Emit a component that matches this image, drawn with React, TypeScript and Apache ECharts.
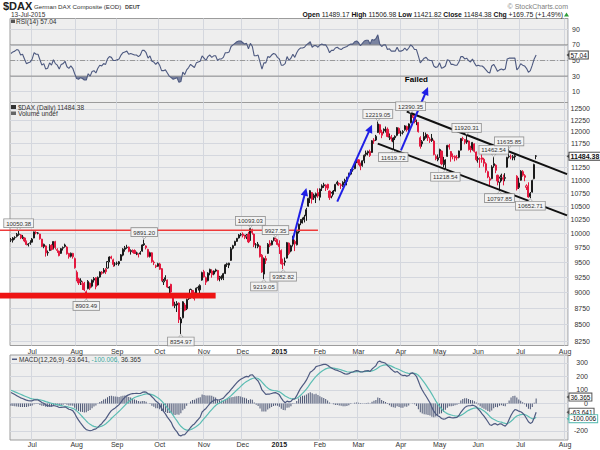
import React, { useEffect, useRef, useState } from 'react';
import * as echarts from 'echarts';

const FONT = "'Liberation Sans', Arial, Helvetica, sans-serif";

// ---------- calendar ----------
const firstTradingDay = '2014-06-16';
const lastAxisDay = '2015-08-04';
const exchangeHolidays = ['2014-12-24', '2014-12-25', '2014-12-26', '2014-12-31', '2015-01-01', '2015-04-03', '2015-04-06', '2015-05-01'];
const monthNames = ['Jan', 'Feb', 'Mar', 'Apr', 'May', 'Jun', 'Jul', 'Aug', 'Sep', 'Oct', 'Nov', 'Dec'];

// ---------- daily candles: [open, close, low, high] ----------
const candlesJun2014 = [
  [9890, 9883, 9850, 9920], [9880, 9920, 9840, 9935], [9925, 9928, 9890, 9950], [9950, 9987, 9930, 10010],
  [9990, 9987, 9960, 10050.38], [9975, 9921, 9900, 9990], [9925, 9938, 9900, 9975], [9920, 9867, 9845, 9930],
  [9860, 9805, 9790, 9875], [9800, 9815, 9770, 9830], [9830, 9833, 9800, 9880],
];
const candlesJul2014 = [
  [9845, 9902, 9835, 9920], [9920, 10029, 9915, 10035], [10020, 10009, 9985, 10040], [10005, 10009, 9985, 10025],
  [9990, 9906, 9890, 9995], [9900, 9772, 9760, 9905], [9770, 9809, 9740, 9820], [9780, 9659, 9595, 9790],
  [9660, 9666, 9610, 9700], [9700, 9783, 9690, 9810], [9790, 9719, 9700, 9810], [9730, 9859, 9720, 9865],
  [9855, 9753, 9720, 9870], [9700, 9720, 9660, 9740], [9690, 9612, 9600, 9700], [9650, 9734, 9640, 9745],
  [9740, 9753, 9700, 9770], [9770, 9797, 9750, 9820], [9760, 9644, 9630, 9775], [9650, 9593, 9560, 9660],
  [9600, 9653, 9580, 9665], [9650, 9593, 9560, 9660], [9560, 9407, 9390, 9580],
];
const candlesAug2014 = [
  [9330, 9210, 9180, 9360], [9220, 9154, 9120, 9240], [9170, 9189, 9120, 9230], [9140, 9130, 9040, 9180],
  [9150, 9039, 9020, 9170], [8990, 9010, 8903.49, 9030], [9060, 9180, 9050, 9200], [9150, 9069, 9040, 9160],
  [9100, 9199, 9080, 9210], [9200, 9226, 9160, 9250], [9240, 9092, 9050, 9250], [9120, 9245, 9110, 9260],
  [9250, 9334, 9240, 9345], [9330, 9314, 9290, 9350], [9330, 9368, 9310, 9400], [9380, 9339, 9300, 9400],
  [9400, 9510, 9395, 9520], [9520, 9588, 9500, 9600], [9590, 9569, 9550, 9610], [9540, 9462, 9420, 9560],
  [9470, 9470, 9430, 9500],
];
const candlesSep2014 = [
  [9480, 9480, 9450, 9510], [9470, 9507, 9440, 9520], [9530, 9626, 9520, 9640], [9620, 9724, 9600, 9740],
  [9720, 9747, 9680, 9780], [9750, 9758, 9730, 9800], [9760, 9686, 9670, 9770], [9680, 9700, 9630, 9720],
  [9700, 9691, 9660, 9720], [9700, 9651, 9640, 9720], [9650, 9659, 9620, 9680], [9640, 9632, 9580, 9650],
  [9640, 9661, 9630, 9690], [9690, 9798, 9680, 9810], [9820, 9799, 9780, 9891.2], [9780, 9749, 9720, 9790],
  [9720, 9595, 9580, 9730], [9600, 9662, 9580, 9680], [9660, 9510, 9490, 9670], [9500, 9490, 9450, 9530],
  [9440, 9422, 9400, 9460], [9430, 9474, 9420, 9490],
];
const candlesOct2014 = [
  [9470, 9382, 9370, 9490], [9390, 9195, 9180, 9400], [9170, 9196, 9120, 9220], [9240, 9209, 9190, 9280],
  [9200, 9086, 9070, 9210], [9070, 9086, 8990, 9100], [9130, 9005, 8990, 9140], [8960, 8788, 8780, 8970],
  [8790, 8812, 8750, 8850], [8800, 8825, 8690, 8860], [8830, 8572, 8520, 8840], [8520, 8582, 8354.97, 8610],
  [8600, 8850, 8590, 8860], [8800, 8717, 8700, 8830], [8740, 8887, 8720, 8900], [8900, 8940, 8880, 8960],
  [8920, 9048, 8900, 9060], [9030, 8988, 8940, 9040], [8990, 8902, 8870, 9000], [8920, 9068, 8910, 9080],
  [9070, 9083, 9030, 9110], [9040, 9114, 8990, 9130], [9200, 9326, 9190, 9340],
];
const candlesNov2014 = [
  [9340, 9255, 9240, 9370], [9240, 9166, 9120, 9260], [9190, 9316, 9180, 9330], [9320, 9378, 9280, 9390],
  [9350, 9291, 9240, 9380], [9300, 9351, 9280, 9360], [9350, 9369, 9330, 9390], [9360, 9211, 9190, 9370],
  [9230, 9249, 9180, 9270], [9250, 9252, 9200, 9280], [9230, 9307, 9200, 9320], [9310, 9456, 9300, 9470],
  [9460, 9473, 9420, 9490], [9450, 9484, 9400, 9490], [9530, 9732, 9520, 9760], [9740, 9785, 9720, 9800],
  [9790, 9861, 9780, 9870], [9860, 9915, 9850, 9920], [9920, 9974, 9910, 9990], [9975, 9980, 9950, 10010],
];
const candlesDec2014 = [
  [9990, 9963, 9930, 10020], [9950, 9934, 9900, 9980], [9940, 9972, 9900, 9990], [9990, 9851, 9830, 10030],
  [9880, 10087, 9870, 10093.03], [10070, 10014, 9980, 10085], [9990, 9799, 9760, 10000], [9800, 9799, 9740, 9830],
  [9770, 9811, 9740, 9850], [9780, 9594, 9580, 9790], [9620, 9334, 9320, 9640], [9300, 9564, 9219.05, 9580],
  [9530, 9563, 9470, 9610], [9650, 9811, 9640, 9830], [9830, 9787, 9760, 9880], [9800, 9866, 9790, 9880],
  [9880, 9922, 9860, 9930], [9880, 9906, 9850, 9927.35], [9890, 9805, 9790, 9895],
];
const candlesJan2015 = [
  [9820, 9765, 9640, 9880], [9700, 9474, 9460, 9720], [9480, 9470, 9382.82, 9560], [9500, 9518, 9440, 9580],
  [9570, 9838, 9560, 9850], [9830, 9649, 9620, 9840], [9690, 9782, 9670, 9800], [9810, 9941, 9770, 9960],
  [9860, 9818, 9690, 9890], [9800, 10032, 9790, 10060], [10030, 10168, 10000, 10180], [10190, 10242, 10150, 10260],
  [10250, 10257, 10180, 10290], [10260, 10299, 10200, 10340], [10320, 10436, 10230, 10470], [10500, 10649, 10490, 10660],
  [10650, 10798, 10560, 10810], [10760, 10628, 10550, 10770], [10660, 10710, 10620, 10740], [10690, 10738, 10560, 10760],
  [10760, 10694, 10660, 10840],
];
const candlesFeb2015 = [
  [10670, 10828, 10610, 10840], [10850, 10891, 10790, 10920], [10890, 10911, 10850, 10950], [10850, 10905, 10790, 10920],
  [10920, 10846, 10810, 10930], [10790, 10664, 10620, 10800], [10690, 10752, 10650, 10770], [10790, 10752, 10720, 10810],
  [10790, 10919, 10780, 10930], [10930, 10963, 10900, 10990], [10940, 10924, 10890, 10960], [10910, 10895, 10830, 10940],
  [10900, 10961, 10870, 10980], [10970, 11001, 10940, 11030], [10980, 11051, 10900, 11070], [11080, 11131, 11060, 11150],
  [11120, 11206, 11100, 11220], [11210, 11211, 11170, 11250], [11230, 11355, 11220, 11370], [11370, 11402, 11340, 11410],
];
const candlesMar2015 = [
  [11410, 11346, 11300, 11420], [11340, 11281, 11200, 11350], [11290, 11390, 11270, 11400], [11390, 11504, 11340, 11520],
  [11520, 11551, 11480, 11600], [11550, 11583, 11500, 11600], [11580, 11500, 11470, 11620], [11560, 11806, 11550, 11820],
  [11820, 11799, 11740, 11860], [11820, 11901, 11800, 11930], [11980, 12167, 11970, 12219.05], [12150, 11980, 11940, 12160],
  [11990, 11923, 11860, 12040], [12020, 12036, 11960, 12070], [12050, 12040, 11980, 12110], [12050, 11896, 11880, 12090],
  [11880, 11912, 11820, 11960], [11890, 11844, 11790, 11930], [11780, 11865, 11619.72, 11880], [11900, 11868, 11820, 11920],
  [11920, 12086, 11900, 12100], [12070, 11967, 11950, 12090],
];
const candlesApr2015 = [
  [11970, 11968, 11900, 12020], [11980, 12002, 11940, 12030], [12040, 12124, 12020, 12140], [12110, 12036, 12000, 12130],
  [12050, 12166, 12000, 12180], [12190, 12375, 12180, 12390.35], [12380, 12339, 12300, 12380], [12320, 12228, 12180, 12330],
  [12220, 12232, 12140, 12260], [12200, 11999, 11980, 12210], [11870, 11689, 11640, 11900], [11740, 11787, 11680, 11820],
  [11820, 11897, 11800, 11990], [11870, 11939, 11850, 11980], [11920, 11867, 11800, 11950], [11840, 11811, 11760, 11880],
  [11860, 11811, 11780, 11950], [11800, 11519, 11500, 11830], [11480, 11433, 11400, 11520], [11410, 11454, 11380, 11520],
];
const candlesMay2015 = [
  [11480, 11622, 11450, 11640], [11590, 11327, 11300, 11600], [11330, 11351, 11260, 11470], [11310, 11407, 11218.54, 11420],
  [11480, 11709, 11470, 11720], [11710, 11673, 11620, 11740], [11580, 11473, 11370, 11590], [11480, 11472, 11420, 11540],
  [11480, 11448, 11380, 11500], [11460, 11447, 11400, 11510], [11460, 11592, 11440, 11600], [11610, 11854, 11600, 11860],
  [11850, 11848, 11800, 11890], [11830, 11772, 11730, 11840], [11780, 11815, 11740, 11920.31], [11800, 11626, 11600, 11810],
  [11640, 11625, 11560, 11700], [11620, 11771, 11600, 11780], [11740, 11585, 11560, 11750], [11570, 11413, 11380, 11580],
];
const candlesJun2015 = [
  [11420, 11436, 11350, 11480], [11430, 11430, 11250, 11460], [11450, 11419, 11350, 11520], [11420, 11340, 11270, 11450],
  [11330, 11197, 11150, 11360], [11170, 11064, 11040, 11190], [11030, 11001, 10890, 11070], [11030, 11265, 11020, 11300],
  [11290, 11333, 11250, 11462.54], [11300, 11197, 11140, 11320], [11100, 10984, 10900, 11110], [10960, 11044, 10797.85, 11070],
  [11060, 11100, 10980, 11130], [11050, 11019, 10900, 11110], [11050, 11040, 10980, 11140], [11260, 11460, 11250, 11470],
  [11480, 11472, 11440, 11635.85], [11470, 11471, 11420, 11520], [11450, 11473, 11400, 11510], [11470, 11492, 11400, 11520],
  [11080, 10832, 10800, 11100], [10860, 10945, 10830, 11050],
];
const candlesJul2015 = [
  [11000, 11181, 10990, 11200], [11170, 11099, 11070, 11200], [11090, 11058, 10980, 11120], [10860, 10891, 10810, 10920],
  [10880, 10676, 10660, 10960], [10680, 10747, 10652.71, 10770], [10770, 10997, 10760, 11010], [11030, 11315, 11020, 11330],
  [11489.17, 11484.38, 11421.82, 11506.98],
];

// ---------- RSI(14), one value per trading day ----------
const rsi14 = [
  59, 61, 62, 64, 63, 57, 58, 52, 46, 47, 48, 52, 60, 58, 58, 51, 44, 46, 39, 40,
  47, 44, 51, 46, 44, 39, 45, 46, 49, 42, 40, 43, 40, 33, 27, 26, 28, 27, 25, 25,
  33, 30, 36, 37, 34, 40, 44, 43, 46, 45, 52, 55, 54, 50, 50, 51, 52, 57, 60, 61,
  62, 58, 59, 58, 57, 57, 55, 57, 63, 63, 60, 53, 56, 49, 48, 45, 48, 44, 37, 37,
  38, 34, 30, 28, 26, 27, 28, 22, 23, 35, 32, 38, 41, 45, 43, 41, 47, 48, 49, 56,
  53, 50, 55, 57, 54, 56, 56, 50, 52, 52, 54, 60, 60, 61, 68, 70, 72, 74, 75, 75,
  73, 71, 72, 65, 72, 68, 56, 56, 57, 48, 39, 47, 47, 55, 54, 57, 59, 58, 54, 52,
  44, 44, 46, 55, 50, 53, 58, 54, 60, 64, 66, 66, 67, 70, 72, 74, 67, 69, 69, 67,
  70, 71, 70, 70, 66, 60, 63, 63, 66, 67, 65, 64, 66, 67, 68, 70, 71, 71, 74, 75,
  73, 69, 72, 75, 76, 76, 71, 77, 76, 78, 83, 71, 68, 70, 70, 64, 65, 62, 62, 62,
  67, 62, 62, 63, 66, 63, 66, 70, 68, 64, 64, 56, 47, 50, 53, 54, 51, 50, 50, 43,
  41, 42, 47, 40, 41, 43, 51, 50, 45, 45, 44, 44, 48, 55, 55, 52, 53, 50, 48, 52,
  47, 43, 44, 43, 43, 41, 38, 35, 34, 43, 45, 41, 36, 38, 39, 38, 39, 52, 53, 53,
  53, 53, 38, 41, 46, 44, 43, 40, 35, 37, 44, 52, 57.04,
];

// ---------- MACD(12,26,9) ----------
const macdLine = [
  82, 74, 66, 58, 50, 42, 37, 31, 25, 22, 20, 20, 27, 28, 26, 18, 8, 2, -10, -15,
  -17, -20, -14, -18, -22, -29, -28, -27, -24, -32, -42, -45, -52, -72, -100, -122, -142, -160, -178, -192,
  -196, -200, -196, -190, -186, -175, -160, -148, -130, -114, -92, -70, -52, -42, -32, -20, -8, 10, 30, 46,
  58, 64, 70, 73, 74, 75, 74, 74, 82, 86, 84, 72, 66, 50, 36, 18, 8, -8, -36, -58,
  -76, -100, -118, -138, -170, -192, -208, -232, -238, -230, -228, -212, -196, -176, -160, -150, -132, -116, -100, -62,
  -48, -36, -18, 0, 14, 22, 30, 26, 28, 34, 40, 56, 72, 86, 104, 120, 138, 154, 168, 178,
  186, 194, 200, 196, 210, 212, 196, 180, 166, 138, 100, 84, 68, 70, 70, 74, 78, 80, 74, 64,
  40, 20, 6, 18, 12, 16, 32, 34, 58, 86, 112, 132, 150, 172, 200, 230, 240, 252, 272, 276,
  280, 284, 288, 288, 282, 270, 262, 254, 248, 244, 238, 232, 224, 218, 216, 220, 228, 232, 238, 242,
  240, 232, 232, 238, 240, 242, 236, 254, 266, 278, 306, 312, 304, 302, 296, 280, 268, 252, 240, 230,
  236, 224, 212, 206, 208, 202, 206, 222, 226, 216, 200, 166, 128, 100, 76, 54, 30, 6, -28, -56,
  -76, -90, -96, -110, -114, -112, -104, -100, -104, -106, -104, -102, -88, -64, -46, -30, -20, -16, -16, -12,
  -16, -24, -40, -56, -76, -92, -112, -134, -156, -160, -150, -148, -158, -150, -150, -160, -166, -150, -118, -86,
  -62, -44, -48, -56, -60, -70, -86, -110, -134, -146, -138, -104, -63.641,
];
const macdSignal = [
  98, 92, 86, 80, 74, 68, 62, 56, 50, 44, 38, 34, 32, 31, 30, 28, 24, 20, 14, 10,
  6, 2, -2, -5, -8, -12, -15, -18, -20, -23, -27, -31, -35, -42, -54, -67, -82, -97, -113, -128,
  -142, -153, -162, -168, -172, -173, -171, -166, -159, -150, -138, -125, -110, -96, -83, -70, -57, -43, -28, -13,
  2, 15, 26, 36, 44, 50, 55, 59, 63, 68, 71, 71, 70, 66, 60, 52, 43, 33, 19, 3,
  -13, -31, -48, -66, -87, -108, -128, -149, -167, -180, -190, -195, -196, -192, -186, -178, -169, -158, -146, -128,
  -110, -95, -78, -60, -44, -28, -14, -4, 4, 12, 20, 28, 36, 46, 58, 72, 86, 100, 112, 126,
  140, 152, 162, 170, 178, 184, 188, 188, 184, 174, 158, 142, 126, 114, 104, 99, 96, 94, 91, 87,
  78, 67, 55, 48, 41, 36, 35, 35, 39, 48, 61, 75, 90, 106, 125, 146, 165, 183, 200, 214,
  226, 237, 247, 255, 260, 262, 262, 260, 258, 255, 252, 248, 243, 238, 234, 232, 231, 231, 232, 234,
  235, 235, 234, 235, 236, 237, 237, 240, 245, 252, 262, 272, 278, 283, 285, 284, 281, 275, 268, 261,
  256, 250, 243, 236, 230, 225, 221, 222, 223, 222, 218, 208, 192, 174, 155, 135, 114, 93, 69, 44,
  20, -2, -21, -39, -54, -66, -74, -80, -84, -88, -91, -93, -92, -87, -79, -69, -59, -50, -43, -37,
  -33, -31, -33, -37, -45, -54, -66, -79, -95, -108, -116, -123, -130, -134, -137, -142, -146, -147, -141, -130,
  -117, -102, -92, -86, -81, -79, -80, -86, -95, -105, -112, -110, -100.006,
];
const macdHistogram = [
  -16, -18, -20, -22, -24, -26, -25, -25, -25, -22, -18, -14, -5, -3, -4, -10, -16, -18, -24, -25,
  -23, -22, -12, -13, -14, -17, -13, -9, -4, -9, -15, -14, -17, -30, -46, -55, -60, -63, -65, -64,
  -54, -47, -34, -22, -14, -2, 11, 18, 29, 36, 46, 55, 58, 54, 51, 50, 49, 53, 58, 59,
  56, 49, 44, 37, 30, 25, 19, 15, 19, 18, 13, 1, -4, -16, -24, -34, -35, -41, -55, -61,
  -63, -69, -70, -72, -83, -84, -80, -83, -71, -50, -38, -17, 0, 16, 26, 28, 37, 42, 46, 66,
  62, 59, 60, 60, 58, 50, 44, 30, 24, 22, 20, 28, 36, 40, 46, 48, 52, 54, 56, 52,
  46, 42, 38, 26, 32, 28, 8, -8, -18, -36, -58, -58, -58, -44, -34, -25, -18, -14, -17, -23,
  -38, -47, -49, -30, -29, -20, -3, -1, 19, 38, 51, 57, 60, 66, 75, 84, 75, 69, 72, 62,
  54, 47, 41, 33, 22, 8, 0, -6, -10, -11, -14, -16, -19, -20, -18, -12, -3, 1, 6, 8,
  5, -3, -2, 3, 4, 5, -1, 14, 21, 26, 44, 40, 26, 19, 11, -4, -13, -23, -28, -31,
  -20, -26, -31, -30, -22, -23, -15, 0, 3, -6, -18, -42, -64, -74, -79, -81, -84, -87, -97, -100,
  -96, -88, -75, -71, -60, -46, -30, -20, -20, -18, -13, -9, 4, 23, 33, 39, 39, 34, 27, 25,
  17, 7, -7, -19, -31, -38, -46, -55, -61, -52, -34, -25, -28, -16, -13, -18, -20, -3, 23, 44,
  55, 58, 44, 30, 21, 9, -6, -24, -39, -41, -26, 6, 36.365,
];

// ---------- axis ticks ----------
const priceGridTicks = [8250, 8500, 8750, 9000, 9250, 9500, 9750, 10000, 10250, 10500, 10750, 11000, 11250, 11500, 11750, 12000, 12250, 12500];
// 11500 is covered by the last-close tag in the reference
const priceLabelTicks = [8250, 8500, 8750, 9000, 9250, 9500, 9750, 10000, 10250, 10500, 10750, 11000, 11250, 11750, 12000, 12250, 12500];
const rsiTicks = [10, 30, 50, 70, 90];
const macdLabelTicks = [-200, 0, 100, 200, 300];
const macdGridTicks = [-200, -100, 0, 100, 200, 300];

// ---------- annotations ----------
const extremes = [
  { date: '2014-06-20', value: 10050.38, side: 'top' },
  { date: '2014-08-08', value: 8903.49, side: 'bottom' },
  { date: '2014-09-19', value: 9891.2, side: 'top' },
  { date: '2014-10-16', value: 8354.97, side: 'bottom' },
  { date: '2014-12-05', value: 10093.03, side: 'top' },
  { date: '2014-12-16', value: 9219.05, side: 'bottom' },
  { date: '2014-12-29', value: 9927.35, side: 'top' },
  { date: '2015-01-06', value: 9382.82, side: 'bottom' },
  { date: '2015-03-16', value: 12219.05, side: 'top' },
  { date: '2015-03-26', value: 11619.72, side: 'bottom' },
  { date: '2015-04-10', value: 12390.35, side: 'top' },
  { date: '2015-05-07', value: 11218.54, side: 'bottom' },
  { date: '2015-05-22', value: 11920.31, side: 'top' },
  { date: '2015-06-11', value: 11462.54, side: 'top' },
  { date: '2015-06-16', value: 10797.85, side: 'bottom' },
  { date: '2015-06-23', value: 11635.85, side: 'top' },
  { date: '2015-07-08', value: 10652.71, side: 'bottom' },
];
const resistance = { level: 10060, endDate: '2015-01-30' };
const supportZone = { low: 8903, high: 8996, endDate: '2014-11-11' };
const channelLines = [
  { from: ['2015-04-08', 12440], to: ['2015-08-04', 11120] },
  { from: ['2015-03-16', 11745], to: ['2015-08-04', 10330] },
];
const trendArrows = [
  { from: ['2015-01-13', 9893], to: ['2015-01-22', 10850] },
  { from: ['2015-02-13', 10588], to: ['2015-03-11', 12148] },
  { from: ['2015-04-01', 11603], to: ['2015-04-23', 12996] },
];
const failedNote = { date: '2015-04-15', value: 13166, text: 'Failed' };
const headerStats = [['Open', '11489.17'], ['High', '11506.98'], ['Low', '11421.82'], ['Close', '11484.38'], ['Chg', '+169.75 (+1.49%)']];

const RED = '#e3193f';
const BLACK = '#1b1b1b';
const SLATE = '#4e5a80';
const TEAL = '#5bbdb3';
const GRIDLINE = '#d4d7de';
const SHADE = '#7a83a0';
const CLEAR = 'rgba(0,0,0,0)';

function buildTradingDays(): string[] {
  const out: string[] = [];
  const d = new Date(firstTradingDay + 'T00:00:00Z');
  const end = new Date(lastAxisDay + 'T00:00:00Z').getTime();
  while (d.getTime() <= end) {
    const wd = d.getUTCDay();
    const s = d.toISOString().slice(0, 10);
    if (wd !== 0 && wd !== 6 && exchangeHolidays.indexOf(s) < 0) out.push(s);
    d.setUTCDate(d.getUTCDate() + 1);
  }
  return out;
}

const dates = buildTradingDays();
const candles = [
  ...candlesJun2014, ...candlesJul2014, ...candlesAug2014, ...candlesSep2014, ...candlesOct2014,
  ...candlesNov2014, ...candlesDec2014, ...candlesJan2015, ...candlesFeb2015, ...candlesMar2015,
  ...candlesApr2015, ...candlesMay2015, ...candlesJun2015, ...candlesJul2015,
];
const lastIdx = candles.length - 1;

function buildOption() {
  const empty = ['-', '-', '-', '-'];
  const upDays = candles.map((c, i) => (i === 0 || c[1] >= candles[i - 1][1] ? c : empty));
  const downDays = candles.map((c, i) => (i > 0 && c[1] < candles[i - 1][1] ? c : empty));

  const monthStart = (idx: number) => idx > 0 && dates[idx].slice(0, 7) !== dates[idx - 1].slice(0, 7);
  const lbl = { fontSize: 7, color: '#333', fontFamily: FONT };

  const xAxisFor = (gridIndex: number, show: boolean, margin: number) => ({
    type: 'category', gridIndex, data: dates, boundaryGap: true,
    axisLine: { show: false },
    axisTick: { show: false, interval: monthStart },
    axisLabel: {
      show, interval: monthStart, margin, ...lbl,
      formatter: (v: string) => {
        const m = Number(v.slice(5, 7));
        return m === 1 ? `{y|${v.slice(0, 4)}}` : monthNames[m - 1];
      },
      rich: { y: { fontWeight: 'bold', fontSize: 7, color: '#222', fontFamily: FONT } },
    },
    splitLine: { show: true, interval: monthStart, lineStyle: { color: GRIDLINE, width: 1 } },
  });

  const gridBase = { left: 10, right: 32, show: true, backgroundColor: '#eeeeee', borderColor: '#9c9c9c', borderWidth: 1, containLabel: false, outerBoundsMode: 'none' };

  return {
    animation: false,
    backgroundColor: '#ffffff',
    textStyle: { fontFamily: FONT },
    grid: [
      { ...gridBase, top: 18.5, height: 84 },
      { ...gridBase, top: 102.5, height: 243 },
      { ...gridBase, top: 355, height: 85 },
    ],
    xAxis: [xAxisFor(0, false, 2), xAxisFor(1, true, 2), xAxisFor(2, true, 1)],
    yAxis: [
      {
        type: 'value', gridIndex: 0, position: 'right', min: -3.8, max: 103.8,
        axisLine: { show: false }, axisTick: { show: false, customValues: rsiTicks },
        axisLabel: { customValues: rsiTicks, margin: 4, ...lbl },
        splitLine: { show: true, lineStyle: { color: GRIDLINE, width: 1 } },
      },
      {
        type: 'log', logBase: 10, gridIndex: 1, position: 'right', min: 8184, max: 12642,
        axisLine: { show: false }, axisTick: { show: false, customValues: priceGridTicks },
        axisLabel: { customValues: priceLabelTicks, margin: 22, align: 'right', ...lbl, formatter: (v: number) => String(Math.round(v)) },
        splitLine: { show: true, lineStyle: { color: GRIDLINE, width: 1 } },
      },
      {
        type: 'value', gridIndex: 2, position: 'right', min: -268, max: 357,
        axisLine: { show: false }, axisTick: { show: false, customValues: macdGridTicks },
        axisLabel: { customValues: macdLabelTicks, margin: 20, align: 'right', ...lbl },
        splitLine: { show: true, lineStyle: { color: GRIDLINE, width: 1 } },
      },
    ],
    visualMap: [
      { show: false, type: 'piecewise', seriesIndex: 0, dimension: 1, pieces: [{ gte: -50, lte: 70, color: CLEAR }, { gt: 70, lte: 150, color: SHADE }] },
      { show: false, type: 'piecewise', seriesIndex: 1, dimension: 1, pieces: [{ gte: -50, lt: 30, color: SHADE }, { gte: 30, lte: 150, color: CLEAR }] },
    ],
    series: [
      {
        type: 'line', xAxisIndex: 0, yAxisIndex: 0, data: rsi14, symbol: 'none', silent: true, z: 1,
        lineStyle: { width: 0, opacity: 0 }, areaStyle: { origin: 'start', opacity: 1 },
      },
      {
        type: 'line', xAxisIndex: 0, yAxisIndex: 0, data: rsi14, symbol: 'none', silent: true, z: 1,
        lineStyle: { width: 0, opacity: 0 }, areaStyle: { origin: 'end', opacity: 1 },
      },
      {
        type: 'line', xAxisIndex: 0, yAxisIndex: 0, data: rsi14, symbol: 'none', silent: true, z: 3,
        lineStyle: { color: SLATE, width: 1.1 },
      },
      {
        type: 'candlestick', xAxisIndex: 1, yAxisIndex: 1, data: upDays, barWidth: 1.6, silent: true,
        itemStyle: { color: 'transparent', color0: BLACK, borderColor: BLACK, borderColor0: BLACK, borderWidth: 1 },
      },
      {
        type: 'candlestick', xAxisIndex: 1, yAxisIndex: 1, data: downDays, barWidth: 1.6, silent: true,
        itemStyle: { color: 'transparent', color0: RED, borderColor: RED, borderColor0: RED, borderWidth: 1 },
      },
      {
        type: 'bar', xAxisIndex: 2, yAxisIndex: 2, data: macdHistogram, barWidth: 1, silent: true,
        itemStyle: { color: '#4c5674' },
      },
      {
        type: 'line', xAxisIndex: 2, yAxisIndex: 2, data: macdLine, symbol: 'none', silent: true, z: 4,
        lineStyle: { color: SLATE, width: 1.2 },
      },
      {
        type: 'line', xAxisIndex: 2, yAxisIndex: 2, data: macdSignal, symbol: 'none', silent: true, z: 3,
        lineStyle: { color: TEAL, width: 1.2 },
      },
    ],
  };
}

function buildGraphics(chart: any) {
  const px = (axis: number, date: string | number, v: number): number[] => {
    const idx = typeof date === 'number' ? date : dates.indexOf(date);
    return chart.convertToPixel({ xAxisIndex: axis, yAxisIndex: axis }, [idx, v]);
  };
  const els: any[] = [];
  const text = (x: number, y: number, t: string, size: number, o: any = {}) => {
    els.push({
      type: 'text', x, y, silent: true, z: o.z || 60,
      style: {
        text: t, fontSize: size, fontFamily: FONT, fill: o.fill || '#222', fontWeight: o.bold ? 'bold' : 'normal',
        align: o.align || 'left', verticalAlign: o.valign || 'middle', textAlign: o.align || 'left', textVerticalAlign: o.valign || 'middle',
        ...(o.box || {}), ...(o.rich ? { rich: o.rich } : {}),
      },
    });
  };
  const line = (x1: number, y1: number, x2: number, y2: number, stroke: string, w: number, z = 55, dash?: any) => {
    els.push({ type: 'line', silent: true, z, shape: { x1, y1, x2, y2 }, style: { stroke, lineWidth: w, lineDash: dash } });
  };

  // RSI guide lines
  [70, 30].forEach((v) => { const y = px(0, 0, v)[1]; line(10, y, 568, y, '#8d8d8d', 1, 2); });
  { const y = px(0, 0, 50)[1]; line(10, y, 568, y, '#9a9a9a', 1, 2, [5, 2, 1, 2]); }

  // red resistance line and support band (start at page edge)
  {
    const e = px(1, resistance.endDate, resistance.level);
    line(0, e[1], e[0], e[1], '#ee3a3a', 1.5);
    const t = px(1, supportZone.endDate, supportZone.high);
    const b = px(1, supportZone.endDate, supportZone.low);
    els.push({ type: 'rect', silent: true, z: 55, shape: { x: 0, y: t[1], width: t[0], height: b[1] - t[1] }, style: { fill: '#ee1414' } });
  }
  // channel
  channelLines.forEach((l) => {
    const a = px(1, l.from[0] as string, l.from[1] as number);
    const b = px(1, l.to[0] as string, l.to[1] as number);
    line(a[0], a[1], b[0], b[1], '#111111', 2);
  });
  // arrows
  trendArrows.forEach((ar) => {
    const a = px(1, ar.from[0] as string, ar.from[1] as number);
    const b = px(1, ar.to[0] as string, ar.to[1] as number);
    const dx = b[0] - a[0], dy = b[1] - a[1];
    const len = Math.sqrt(dx * dx + dy * dy);
    const ux = dx / len, uy = dy / len;
    const hl = 8, hw = 3.8;
    const bx = b[0] - ux * hl, by = b[1] - uy * hl;
    line(a[0], a[1], bx + ux * 1, by + uy * 1, '#1f1fe6', 2, 56);
    els.push({
      type: 'polygon', silent: true, z: 56,
      shape: { points: [[b[0], b[1]], [bx - uy * hw, by + ux * hw], [bx + uy * hw, by - ux * hw]] },
      style: { fill: '#1f1fe6' },
    });
  });
  {
    const p = px(1, failedNote.date, failedNote.value);
    text(p[0], p[1], failedNote.text, 8, { bold: true, fill: '#000', align: 'center' });
  }
  // extreme labels
  const box = { backgroundColor: '#f3f3f3', borderColor: '#8f8f8f', borderWidth: 0.8, padding: [1, 2, 0, 2], lineHeight: 7 };
  extremes.forEach((e) => {
    const p = px(1, e.date, e.value);
    if (e.side === 'top') {
      els.push({ type: 'polygon', silent: true, z: 57, shape: { points: [[p[0] - 2.5, p[1] - 3.5], [p[0] + 2.5, p[1] - 3.5], [p[0], p[1] - 0.5]] }, style: { fill: '#f3f3f3', stroke: '#8f8f8f', lineWidth: 0.6 } });
      text(p[0], p[1] - 3.5, e.value.toFixed(2), 6, { fill: '#333', align: 'center', valign: 'bottom', box, z: 58 });
    } else {
      els.push({ type: 'polygon', silent: true, z: 57, shape: { points: [[p[0] - 2.5, p[1] + 3.5], [p[0] + 2.5, p[1] + 3.5], [p[0], p[1] + 0.5]] }, style: { fill: '#f3f3f3', stroke: '#8f8f8f', lineWidth: 0.6 } });
      text(p[0], p[1] + 3.5, e.value.toFixed(2), 6, { fill: '#333', align: 'center', valign: 'top', box, z: 58 });
    }
  });

  // right-edge value tags (with a small pointer towards the plot)
  const vbox = (border: string) => ({ backgroundColor: '#ffffff', borderColor: border, borderWidth: 1, padding: [0, 1, 0, 1], lineHeight: 7 });
  const tag = (y: number, t: string, size: number, border: string, bold = false) => {
    els.push({ type: 'polygon', silent: true, z: 59, shape: { points: [[566.5, y], [569.8, y - 2.5], [569.8, y + 2.5]] }, style: { fill: border } });
    text(569.5, y, t, size, { bold, fill: '#111', box: vbox(border), z: 60 });
  };
  {
    const p = px(1, lastIdx, candles[lastIdx][1]);
    tag(p[1], candles[lastIdx][1].toFixed(2), 7, '#444', true);
    const r = px(0, lastIdx, rsi14[lastIdx]);
    tag(r[1], rsi14[lastIdx].toFixed(2), 6.5, '#444');
    const h = px(2, lastIdx, macdHistogram[lastIdx]);
    tag(h[1] - 1.5, macdHistogram[lastIdx].toFixed(3), 6.5, '#555');
    const m = px(2, lastIdx, macdLine[lastIdx]);
    tag(m[1], macdLine[lastIdx].toFixed(3), 6.5, '#555');
    const s = px(2, lastIdx, macdSignal[lastIdx]);
    tag(s[1] + 1.5, macdSignal[lastIdx].toFixed(3), 6.5, TEAL);
  }

  // headers
  text(3, 6, '$DAX', 11, { bold: true });
  text(34, 6.5, 'German DAX Composite (EOD)', 6.2, { fill: '#333' });
  text(125, 6.5, 'DEUT', 5.5, { bold: true, fill: '#444' });
  text(11, 14.5, '13-Jul-2015', 6.5, { fill: '#333' });
  text(568, 6, '\u00A9 StockCharts.com', 7, { fill: '#808080', align: 'right' });
  const statText = headerStats.map(([k, v]) => `{b|${k}} ${v}`).join(' ');
  text(563, 14.5, statText, 6.8, { align: 'right', rich: { b: { fontWeight: 'bold', fontSize: 6.8, fontFamily: FONT, fill: '#111' } } });
  els.push({ type: 'polygon', silent: true, z: 60, shape: { points: [[564, 16.5], [569, 16.5], [566.5, 12.5]] }, style: { fill: '#2f9e3a' } });
  els.push({ type: 'rect', silent: true, z: 60, shape: { x: 11, y: 19.5, width: 4, height: 3.5 }, style: { fill: '#555' } });
  text(16, 21.5, 'RSI(14) 57.04', 6.5, { fill: '#333' });
  els.push({ type: 'rect', silent: true, z: 60, shape: { x: 11, y: 105, width: 5, height: 4 }, style: { fill: '#333' } });
  text(18, 107, '$DAX (Daily) 11484.38', 6.5, { fill: '#333' });
  els.push({ type: 'rect', silent: true, z: 60, shape: { x: 11, y: 111.5, width: 5, height: 3.5 }, style: { fill: '#666' } });
  text(18, 113.5, 'Volume undef', 6.5, { fill: '#333' });
  els.push({ type: 'rect', silent: true, z: 60, shape: { x: 12, y: 358.5, width: 5, height: 1.5 }, style: { fill: SLATE } });
  text(19, 359.5, '{d|MACD(12,26,9) -63.641,} {t|-100.006,} {d|36.365}', 6.5, {
    rich: { d: { fill: '#333', fontSize: 6.5, fontFamily: FONT }, t: { fill: '#3aa89d', fontSize: 6.5, fontFamily: FONT } },
  });
  return els;
}

export default function App() {
  const ref = useRef<HTMLDivElement>(null);
  const [err, setErr] = useState('');
  useEffect(() => {
    if (!ref.current) return;
    const chart = echarts.init(ref.current, null, { renderer: 'svg' });
    try {
      chart.setOption(buildOption() as any);
      chart.setOption({ graphic: { elements: buildGraphics(chart) } } as any);
    } catch (e: any) {
      setErr(String(e && e.stack ? e.stack : e));
    }
    return () => chart.dispose();
  }, []);
  return (
    <>
      <div ref={ref} style={{ position: 'absolute', left: 0, top: 0, width: 600, height: 450 }} />
      {err ? <pre style={{ position: 'absolute', left: 0, top: 200, fontSize: 9, color: 'red', background: '#fff' }}>{err}</pre> : null}
    </>
  );
}
